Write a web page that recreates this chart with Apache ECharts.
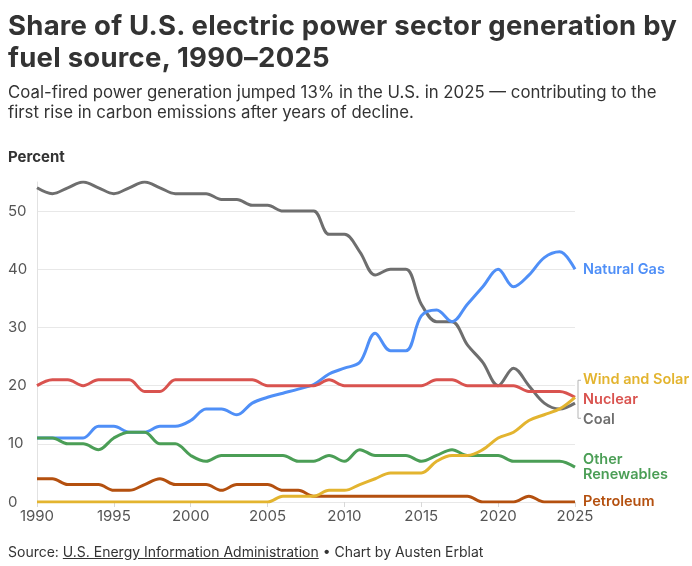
<!DOCTYPE html>
<html>
<head>
<meta charset="UTF-8">
<title>Electric power sector generation by fuel</title>
<script src="https://cdn.jsdelivr.net/npm/echarts@6/dist/echarts.min.js"></script>
<style>
  body { margin: 0; background: #fff; font-family: Inter, "Noto Sans", sans-serif; color: #333; }
  #main { position: absolute; left: 0; top: 0; width: 692px; height: 566px; }
  .head { position: absolute; left: 8px; top: 9px; width: 684px; }
  .head h1 { margin: 0; font-family: Inter, "Noto Sans", sans-serif; font-size: 27.5px; line-height: 32px; font-weight: 700; color: #333; letter-spacing: 0.25px; white-space: nowrap; }
  .head p { margin: 9px 0 0 0; font-size: 16.8px; line-height: 20px; color: #333; white-space: nowrap; }
  .source { position: absolute; left: 8px; top: 543px; font-size: 14px; color: #333; }
  .source u { text-decoration: underline; }
</style>
</head>
<body>
  <div id="main"></div>
  <div class="head">
    <h1>Share of U.S. electric power sector generation by<br>fuel source, 1990–2025</h1>
    <p>Coal-fired power generation jumped 13% in the U.S. in 2025 — contributing to the<br>first rise in carbon emissions after years of decline.</p>
  </div>
  <div class="source">Source: <u>U.S. Energy Information Administration</u> • Chart by Austen Erblat</div>

<script type="text/javascript">
// years on the x axis
var years = [1990, 1991, 1992, 1993, 1994, 1995, 1996, 1997, 1998, 1999,
             2000, 2001, 2002, 2003, 2004, 2005, 2006, 2007, 2008, 2009,
             2010, 2011, 2012, 2013, 2014, 2015, 2016, 2017, 2018, 2019,
             2020, 2021, 2022, 2023, 2024, 2025];

// share of generation, percent
var coal      = [54, 53, 54, 55, 54, 53, 54, 55, 54, 53, 53, 53, 52, 52, 51, 51, 50, 50,
                 50, 46, 46, 43, 39, 40, 40, 34, 31, 31, 27, 24, 20, 23, 20, 17, 16, 17];
var gas       = [11, 11, 11, 11, 13, 13, 12, 12, 13, 13, 14, 16, 16, 15, 17, 18, 18.7, 19.4,
                 20.2, 22, 23, 24, 29, 26, 26, 32, 33, 31, 34, 37, 40, 37, 39, 42, 43, 40];
var nuclear   = [20, 21, 21, 20, 21, 21, 21, 19, 19, 21, 21, 21, 21, 21, 21, 20, 20, 20,
                 20, 21, 20, 20, 20, 20, 20, 20, 21, 21, 20, 20, 20, 20, 19, 19, 19, 18];
var windSolar = [0, 0, 0, 0, 0, 0, 0, 0, 0, 0, 0, 0, 0, 0, 0, 0, 1, 1,
                 1, 2, 2, 3, 4, 5, 5, 5, 7, 8, 8, 9, 11, 12, 14, 15, 16, 18];
var otherRen  = [11, 11, 10, 10, 9, 11, 12, 12, 10, 10, 8, 7, 8, 8, 8, 8, 8, 7,
                 7, 8, 7, 9, 8, 8, 8, 7, 8, 9, 8, 8, 8, 7, 7, 7, 7, 6];
var petroleum = [4, 4, 3, 3, 3, 2, 2, 3, 4, 3, 3, 3, 2, 3, 3, 3, 2, 2,
                 1, 1, 1, 1, 1, 1, 1, 1, 1, 1, 1, 0, 0, 0, 1, 0, 0, 0];

var yTicks = [0, 10, 20, 30, 40, 50];

function pairs(vals) {
  return years.map(function (y, i) { return [y, vals[i]]; });
}

function line(name, label, vals, color, dy) {
  return {
    name: name,
    type: 'line',
    data: pairs(vals),
    smooth: 0.35,
    symbol: 'none',
    lineStyle: { width: 3, color: color },
    itemStyle: { color: color },
    emphasis: { disabled: true },
    endLabel: {
      show: true,
      formatter: label,
      color: color,
      fontFamily: 'Inter, "Noto Sans", sans-serif',
      fontSize: 14.5,
      fontWeight: 600,
      lineHeight: 15,
      distance: 8,
      offset: [0, dy]
    }
  };
}

var myChart = echarts.init(document.getElementById('main'));

var percentLabel = {
  type: 'text',
  left: 8,
  top: 150,
  style: { text: 'Percent', fontSize: 15, fontWeight: 700, fill: '#333',
           fontFamily: 'Inter, "Noto Sans", sans-serif' }
};

var option = {
  animation: false,
  textStyle: { fontFamily: 'Inter, "Noto Sans", sans-serif' },
  grid: { left: 37, right: 117, top: 182, bottom: 64 },
  xAxis: {
    type: 'value',
    min: 1990,
    max: 2025,
    interval: 5,
    axisLine: { show: false },
    axisTick: { show: true, length: 5, lineStyle: { color: '#d8d8d8' } },
    splitLine: { show: false },
    axisLabel: {
      color: '#555',
      fontSize: 15,
      margin: 7,
      formatter: function (v) { return String(v); }
    }
  },
  yAxis: {
    type: 'value',
    min: 0,
    max: 55,
    interval: 10,
    axisLine: { show: true, lineStyle: { color: '#e2e2e2' } },
    axisTick: { show: false },
    splitLine: {
      show: true,
      lineStyle: { color: ['#e8e8e8', '#e8e8e8', '#e8e8e8', '#e8e8e8', '#e8e8e8', '#e8e8e8', 'rgba(0,0,0,0)'] }
    },
    axisLabel: {
      color: '#555',
      fontSize: 15,
      align: 'left',
      margin: 29,
      formatter: function (v) { return yTicks.indexOf(v) >= 0 ? String(v) : ''; }
    }
  },
  graphic: [percentLabel],
  series: [
    line('Coal', 'Coal', coal, '#6e6e6e', 17),
    line('Natural Gas', 'Natural Gas', gas, '#4f8ff7', 0),
    line('Nuclear', 'Nuclear', nuclear, '#d9534f', 2),
    line('Other Renewables', 'Other\nRenewables', otherRen, '#4b9e56', 0),
    line('Petroleum', 'Petroleum', petroleum, '#b4500f', 0),
    line('Wind and Solar', 'Wind and Solar', windSolar, '#e3b42f', -18)
  ]
};

myChart.setOption(option);

// bracket grouping the three crowded end labels
var last = years.length - 1;
var p = myChart.convertToPixel({ gridIndex: 0 }, [years[last], nuclear[last]]);
var bx = p[0] + 3;
myChart.setOption({
  graphic: [percentLabel, {
    type: 'polyline',
    silent: true,
    shape: { points: [[bx + 3, p[1] - 17], [bx, p[1] - 17], [bx, p[1] + 21], [bx + 3, p[1] + 21]] },
    style: { stroke: '#b5b5b5', lineWidth: 1, fill: null }
  }]
});
</script>
</body>
</html>
